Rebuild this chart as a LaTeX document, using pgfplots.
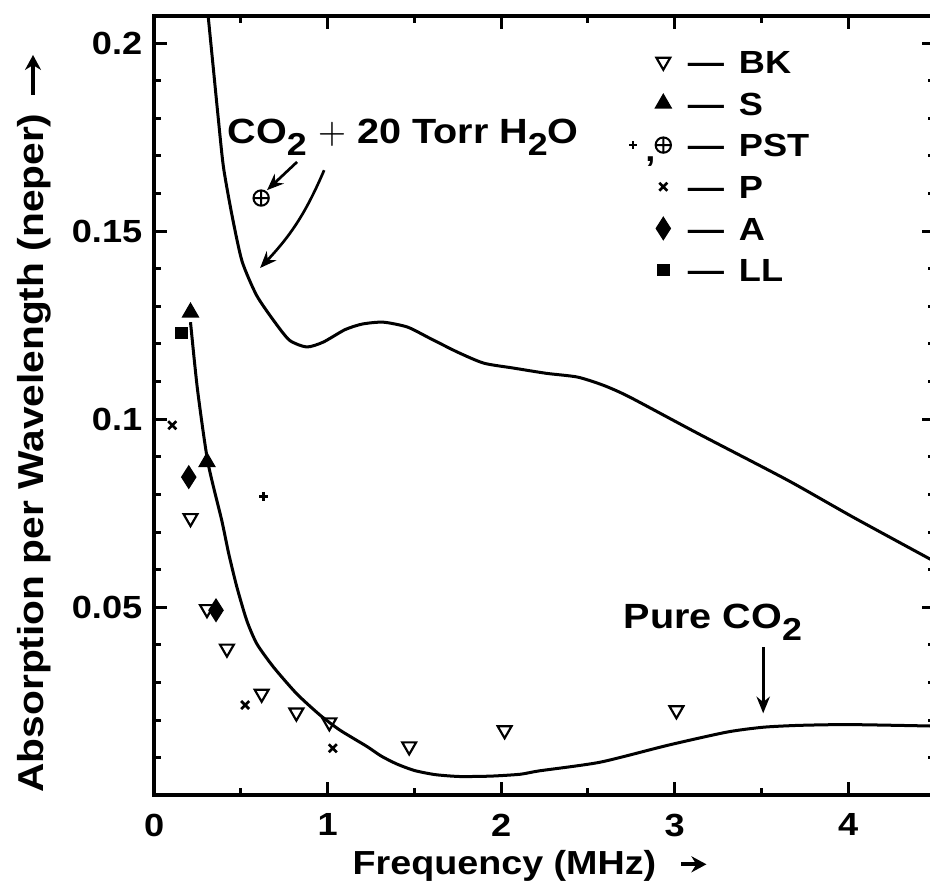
\documentclass[border=0pt]{standalone}
\usepackage{fontspec}
\setmainfont{Liberation Sans}[FakeStretch=1.13]
\usepackage{pgfplots}
\pgfplotsset{compat=1.18}
\usetikzlibrary{arrows.meta}

\newcommand{\sub}[1]{\raisebox{-3.6pt}{\fontsize{9.5}{10}\selectfont #1}}
\newcommand{\arr}[1]{\tikz[baseline=-0.55ex]\draw[line width=1.1pt,-{Stealth[length=4.5pt,width=4.8pt]}] (0,0) -- (#1,0);}

\pgfplotsset{pstlegend/.style={legend image code/.code={
    \draw[overlay, mark=+, mark size=1.2pt, line width=0.8pt] plot coordinates {(-9pt,0pt)};
    \node[overlay, inner sep=0pt, font=\bfseries\fontsize{9.6}{12}\selectfont] at (-5.6pt,-1.3pt) {,};
    \draw[##1] plot coordinates {(0pt,0pt)};}}}

\begin{document}
\begin{tikzpicture}
\begin{axis}[
  scale only axis,
  width=234.2pt, height=233.7pt,
  xmin=0, xmax=4.5, ymin=0, ymax=0.2072,
  axis line style={line width=1.3pt},
  tick style={line width=0.9pt, black},
  tick align=inside,
  major tick length=4pt, minor tick length=2.2pt,
  xtick={0,1,2,3,4}, xticklabels={0,1,2,3,4},
  minor xtick={0.5,1.5,2.5,3.5},
  ytick={0.05,0.1,0.15,0.2}, yticklabels={0.05,0.1,0.15,0.2},
  minor ytick={0.01,0.02,0.03,0.04,0.06,0.07,0.08,0.09,0.11,0.12,0.13,0.14,0.16,0.17,0.18,0.19},
  ticklabel style={font=\bfseries\fontsize{9.6}{11}\selectfont},
  xticklabel style={yshift=-2pt},
  xlabel={Frequency (MHz)\hspace{7pt}\arr{7.5pt}},
  xlabel style={at={(axis description cs:0.482,0)}, anchor=base, yshift=-23.6pt,
    font=\bfseries\fontsize{10}{12}\selectfont},
  ylabel={Absorption per Wavelength (neper)\hspace{5pt}\arr{12pt}},
  ylabel style={at={(axis description cs:-0.1534,0.478)}, anchor=center,
    font=\bfseries\fontsize{10.8}{13}\selectfont},
  legend cell align=left,
  legend style={draw=none, fill=none, at={(axis cs:2.828,0.2001)}, anchor=north west,
    font=\bfseries\fontsize{9.6}{12}\selectfont, row sep=5.5pt,
    nodes={text height=7pt, text depth=0pt, inner ysep=0pt}},
  legend image code/.code={\draw[#1] plot coordinates {(0pt,0pt)};},
]
% upper curve: CO2 + 20 Torr H2O
\addplot[line width=0.9pt, smooth, tension=0.4, forget plot] coordinates {
  (0.31,0.208) (0.34,0.194) (0.37,0.180) (0.40,0.167) (0.45,0.154) (0.507,0.142)
  (0.59,0.1330) (0.688,0.1263) (0.78,0.1210) (0.88,0.1192) (0.975,0.1205)
  (1.10,0.1238) (1.20,0.1253) (1.32,0.1258) (1.46,0.1245) (1.59,0.1215)
  (1.75,0.1178) (1.90,0.1149) (2.07,0.1136) (2.26,0.1122) (2.44,0.1112)
  (2.59,0.1090) (2.74,0.1059) (3.13,0.0963) (3.65,0.0838) (4.03,0.0739) (4.5,0.0621)
};
% lower curve: pure CO2
\addplot[line width=0.9pt, smooth, tension=0.4, forget plot] coordinates {
  (0.21,0.1258) (0.25,0.108) (0.31,0.0886) (0.39,0.0731) (0.43,0.0643)
  (0.477,0.0554) (0.534,0.0465) (0.592,0.0403) (0.688,0.0341) (0.822,0.0270)
  (0.957,0.0213) (1.072,0.0173) (1.226,0.0130) (1.31,0.0104) (1.40,0.0083)
  (1.50,0.0066) (1.62,0.0055) (1.76,0.0050) (1.94,0.0051) (2.11,0.0056)
  (2.22,0.0065) (2.57,0.0088) (2.96,0.0133) (3.30,0.0168) (3.51,0.0181)
  (3.72,0.0186) (4.01,0.0188) (4.5,0.0184)
};
% BK
\addplot[only marks, mark=triangle, mark size=2.4pt,
  mark options={rotate=180, fill=white, line width=0.65pt}] coordinates {
  (0.21,0.0737) (0.305,0.0495) (0.42,0.0390) (0.62,0.0270) (0.82,0.0220)
  (1.01,0.0194) (1.47,0.0130) (2.02,0.0173) (3.01,0.0226)
};
\addlegendentry{\hspace{3pt}---\hspace{4.5pt}BK}
% S
\addplot[only marks, mark=triangle*, mark size=2.7pt, mark options={fill=black}] coordinates {
  (0.21,0.1284) (0.305,0.0886)
};
\addlegendentry{\hspace{3pt}---\hspace{4.5pt}S}
% PST
\addplot[only marks, mark=+, mark size=1.3pt, mark options={line width=0.9pt}, forget plot]
  coordinates {(0.63,0.0795)};
\addplot[only marks, mark=oplus, mark size=2.3pt, mark options={line width=0.6pt}, pstlegend]
  coordinates {(0.617,0.1588)};
\addlegendentry{\hspace{3pt}---\hspace{4.5pt}PST}
% P
\addplot[only marks, mark=x, mark size=1.7pt, mark options={line width=0.8pt}] coordinates {
  (0.105,0.0984) (0.525,0.0240) (1.03,0.0125)
};
\addlegendentry{\hspace{3pt}---\hspace{4.5pt}P}
% A
\addplot[only marks, mark=diamond*, mark size=3.3pt, mark options={xscale=0.85, fill=black}] coordinates {
  (0.20,0.0846) (0.357,0.0492)
};
\addlegendentry{\hspace{3pt}---\hspace{4.5pt}A}
% LL
\addplot[only marks, mark=square*, mark size=1.7pt, mark options={fill=black}] coordinates {
  (0.16,0.1229)
};
\addlegendentry{\hspace{3pt}---\hspace{4.5pt}LL}

% annotations
\node[anchor=base, font=\bfseries\fontsize{10.5}{12}\selectfont] at (axis cs:1.435,0.1734)
  {CO\sub{2} $+$ 20 Torr H\sub{2}O};
\draw[-{Stealth[length=5pt,width=4pt]}, line width=0.8pt]
  (axis cs:0.824,0.1684) -- (axis cs:0.651,0.1609);
\draw[-{Stealth[length=5pt,width=4pt]}, line width=0.8pt]
  (axis cs:0.98,0.1662) to[bend left=10] (axis cs:0.611,0.1402);
\node[anchor=base, font=\bfseries\fontsize{10.5}{12}\selectfont] at (axis cs:3.22,0.0444)
  {Pure CO\sub{2}};
\draw[-{Stealth[length=5pt,width=4pt]}, line width=0.8pt]
  (axis cs:3.51,0.0394) -- (axis cs:3.51,0.0218);
\end{axis}
\pgfresetboundingbox
\path[use as bounding box] ([xshift=-46.2pt,yshift=-29.1pt]current axis.south west)
  rectangle ([xshift=-1.5pt,yshift=4.8pt]current axis.north east);
\end{tikzpicture}
\end{document}
